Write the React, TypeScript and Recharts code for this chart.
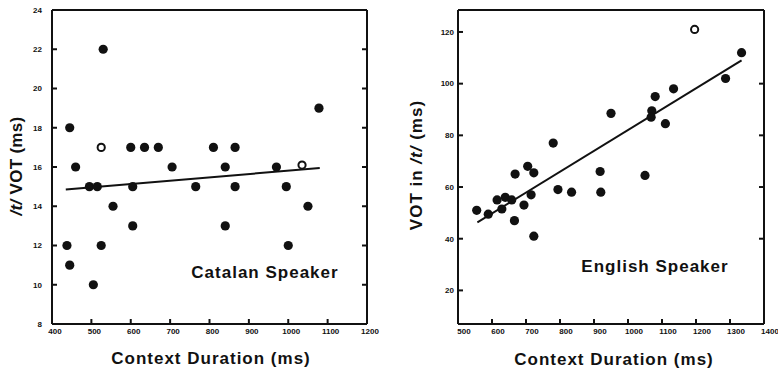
import React from 'react'
import {
  ScatterChart,
  Scatter,
  XAxis,
  YAxis,
  ReferenceLine,
} from 'recharts'

// Catalan speaker: context duration (ms) vs /t/ VOT (ms)
const catalanDuration = [530, 445, 600, 635, 670, 810, 865, 460, 705, 840, 970, 1078, 495, 515, 605, 765, 865, 995, 555, 1050, 605, 840, 438, 525, 1000, 445, 505]
const catalanVot = [22, 18, 17, 17, 17, 17, 17, 16, 16, 16, 16, 19, 15, 15, 15, 15, 15, 15, 14, 14, 13, 13, 12, 12, 12, 11, 10]
const catalanOpenDuration = [525, 1035]
const catalanOpenVot = [17, 16.1]
const catalanFitDuration = [435, 1080]
const catalanFitVot = [14.85, 15.95]

// English speaker
const englishDuration = [1334, 1287, 1134, 1080, 1070, 1068, 1110, 950, 780, 668, 705, 723, 918, 1050, 794, 834, 920, 555, 589, 615, 639, 629, 658, 666, 694, 715, 723]
const englishVot = [112, 102, 98, 95, 89.5, 87, 84.5, 88.5, 77, 65, 68, 65.5, 66, 64.5, 59, 58, 58, 51, 49.5, 55, 56, 51.5, 55, 47, 53, 57, 41]
const englishOpenDuration = [1196]
const englishOpenVot = [121]
const englishFitDuration = [557, 1334]
const englishFitVot = [46.3, 109]

const catalanXTicks = [400, 500, 600, 700, 800, 900, 1000, 1100, 1200]
const catalanYTicks = [8, 10, 12, 14, 16, 18, 20, 22, 24]
const englishXTicks = [500, 600, 700, 800, 900, 1000, 1100, 1200, 1300, 1400]
const englishYTicks = [20, 40, 60, 80, 100, 120]

const ink = '#111'
const font = '"Liberation Sans", Arial, sans-serif'
const titleStyle: React.CSSProperties = { fontFamily: font, fontWeight: 700, fontSize: 17, fill: ink }
const axisLine = { stroke: ink, strokeWidth: 2 }
const TL = 5

const zip = (xs: number[], ys: number[]) => xs.map((x, i) => ({ x, y: ys[i] }))

const Dot = (p: any) => <circle cx={p.cx} cy={p.cy} r={4.6} fill={ink} />
const OpenDot = (p: any) => <circle cx={p.cx} cy={p.cy} r={3.6} fill="#fff" stroke={ink} strokeWidth={2} />

// inward tick marks plus the label, drawn from recharts' tick position
const tickText = { fill: ink, fontSize: 8, fontWeight: 700, fontFamily: font }

const BottomTick = (gap: number, dx: number) => (p: any) => (
  <g>
    <line x1={p.x} x2={p.x} y1={p.y - gap} y2={p.y - gap - TL} stroke={ink} strokeWidth={2} />
    <text x={p.x + dx} y={p.y} dy="0.71em" textAnchor="middle" {...tickText}>{p.payload.value}</text>
  </g>
)
const LeftTick = (gap: number) => (p: any) => (
  <g>
    <line x1={p.x + gap} x2={p.x + gap + TL} y1={p.y} y2={p.y} stroke={ink} strokeWidth={2} />
    <text x={p.x} y={p.y} dy="0.355em" textAnchor="end" {...tickText}>{p.payload.value}</text>
  </g>
)
const TopTick = (p: any) => (
  <line x1={p.x} x2={p.x} y1={p.y} y2={p.y + TL} stroke={ink} strokeWidth={2} />
)
const RightTick = (p: any) => (
  <line x1={p.x} x2={p.x - TL} y1={p.y} y2={p.y} stroke={ink} strokeWidth={2} />
)

function Panel({
  width, margin, yWidth, xDomain, yDomain, xTicks, yTicks, filled, open, fit, xDx, yGap,
}: any) {
  return (
    <ScatterChart width={width} height={377} margin={margin}>
      <XAxis
        type="number" dataKey="x" domain={xDomain} ticks={xTicks} allowDataOverflow
        height={53} tickSize={0} tickMargin={4} interval={0}
        axisLine={axisLine} tickLine={false} tick={BottomTick(4, xDx)}
      />
      <XAxis
        xAxisId="t" orientation="top" type="number" domain={xDomain} ticks={xTicks.slice(1, -1)}
        allowDataOverflow height={1} tickSize={0} tickMargin={0} interval={0}
        axisLine={axisLine} tickLine={false} tick={TopTick}
      />
      <YAxis
        type="number" dataKey="y" domain={yDomain} ticks={yTicks} allowDataOverflow
        width={yWidth} tickSize={0} tickMargin={yGap} interval={0}
        axisLine={axisLine} tickLine={false} tick={LeftTick(yGap)}
      />
      <YAxis
        yAxisId="r" orientation="right" type="number" domain={yDomain} ticks={yTicks.slice(1, -1)}
        allowDataOverflow width={1} tickSize={0} tickMargin={0} interval={0}
        axisLine={axisLine} tickLine={false} tick={RightTick}
      />
      <ReferenceLine segment={fit} stroke={ink} strokeWidth={2} ifOverflow="visible" />
      <Scatter data={filled} shape={Dot} isAnimationActive={false} />
      <Scatter data={open} shape={OpenDot} isAnimationActive={false} />
    </ScatterChart>
  )
}

export default function App() {
  return (
    <div style={{ position: 'absolute', left: 0, top: 0, width: 778, height: 377, background: '#fff', overflow: 'hidden' }}>
      <div style={{ position: 'absolute', left: 0, top: 0 }}>
        <Panel
          width={390}
          margin={{ top: 9, right: 22, bottom: 0, left: 22 }}
          yWidth={30}
          yGap={10}
          xDomain={[400, 1200]}
          yDomain={[8, 24]}
          xTicks={catalanXTicks}
          yTicks={catalanYTicks}
          filled={zip(catalanDuration, catalanVot)}
          open={zip(catalanOpenDuration, catalanOpenVot)}
          fit={zip(catalanFitDuration, catalanFitVot)}
          xDx={3}
        />
      </div>
      <div style={{ position: 'absolute', left: 390, top: 0 }}>
        <Panel
          width={388}
          margin={{ top: 9, right: 13, bottom: 0, left: 38 }}
          yWidth={30}
          yGap={4}
          xDomain={[500, 1400]}
          yDomain={[7, 128.5]}
          xTicks={englishXTicks}
          yTicks={englishYTicks}
          filled={zip(englishDuration, englishVot)}
          open={zip(englishOpenDuration, englishOpenVot)}
          fit={zip(englishFitDuration, englishFitVot)}
          xDx={6}
        />
      </div>
      <svg width={778} height={377} style={{ position: 'absolute', left: 0, top: 0, pointerEvents: 'none' }}>
        <text x={16} y={166} transform="rotate(-90 16 166)" textAnchor="middle" dominantBaseline="central" style={titleStyle} letterSpacing={0.3}>
          <tspan fontStyle="italic">/t/</tspan> VOT (ms)
        </text>
        <text x={211} y={364} textAnchor="middle" style={titleStyle} letterSpacing={1}>Context Duration (ms)</text>
        <text x={265} y={278} textAnchor="middle" style={titleStyle} letterSpacing={1}>Catalan Speaker</text>
        <text x={416} y={165} transform="rotate(-90 416 165)" textAnchor="middle" dominantBaseline="central" style={titleStyle} letterSpacing={1}>
          VOT in <tspan fontStyle="italic">/t/</tspan> (ms)
        </text>
        <text x={614} y={365} textAnchor="middle" style={titleStyle} letterSpacing={1}>Context Duration (ms)</text>
        <text x={655} y={272} textAnchor="middle" style={titleStyle} letterSpacing={1}>English Speaker</text>
      </svg>
    </div>
  )
}
